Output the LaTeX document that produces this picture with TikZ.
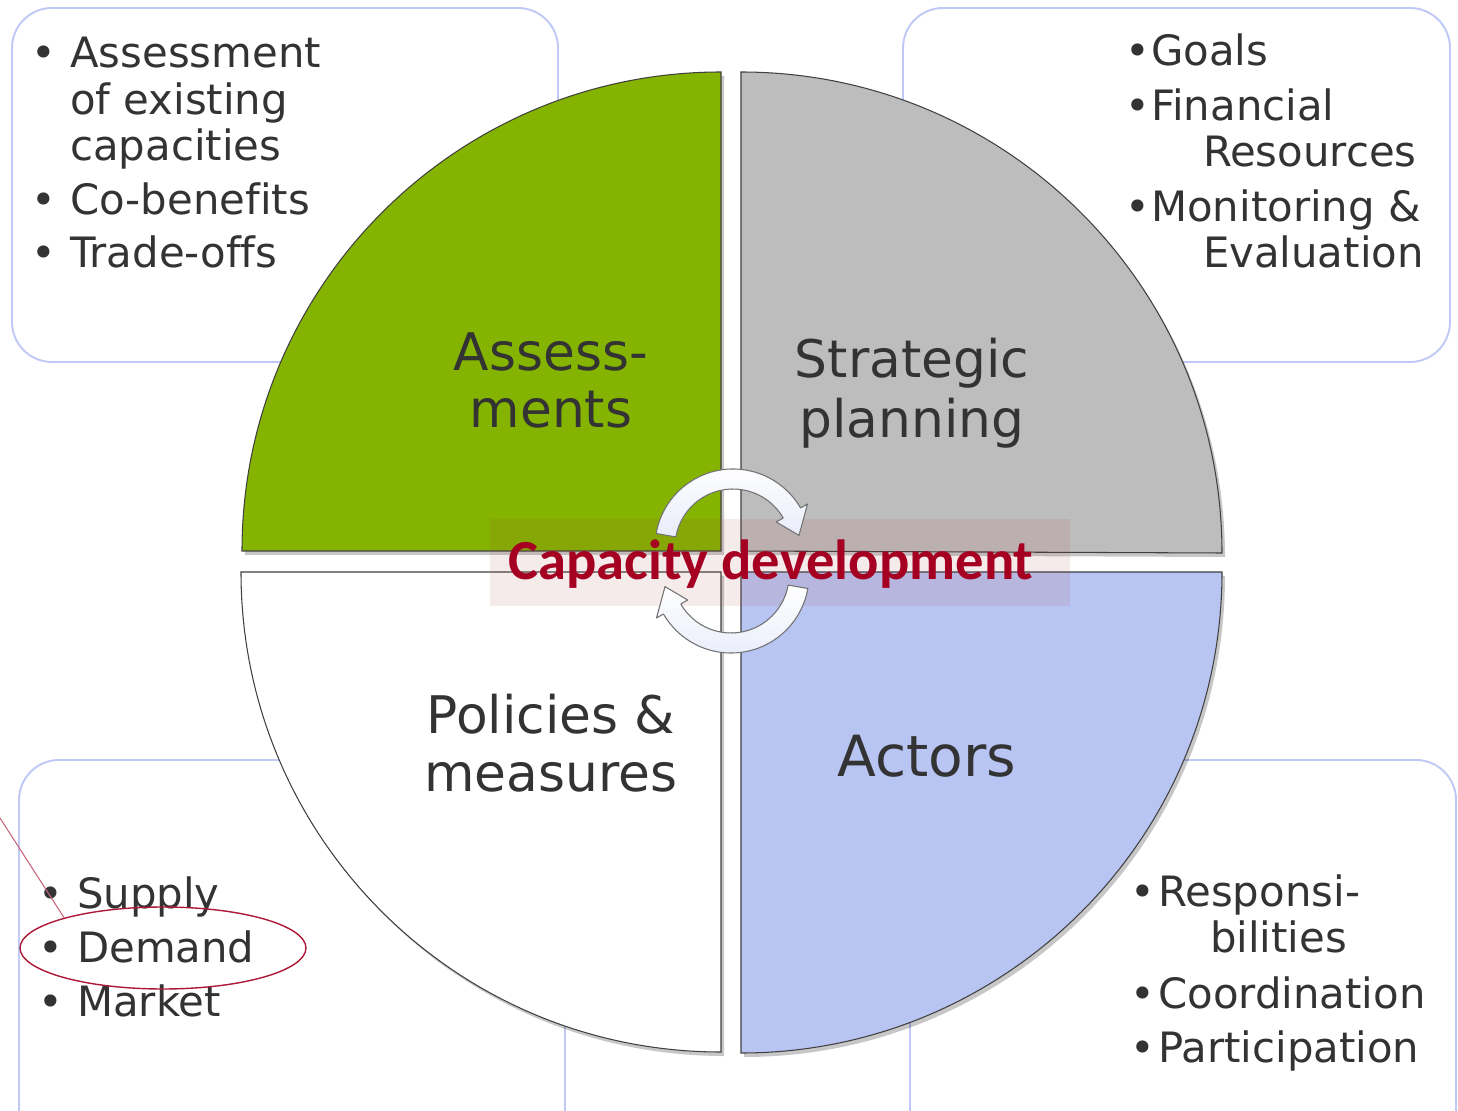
\documentclass[tikz,border=0pt]{standalone}
\usepackage{fontspec}
\setmainfont{DejaVu Sans}[Ligatures=NoCommon]
\newfontfamily\calfont{Carlito}
\usepackage{tikz}
\usetikzlibrary{shapes.geometric}

\definecolor{boxline}{RGB}{192,201,245}
\definecolor{leafgreen}{RGB}{132,180,0}
\definecolor{stonegray}{RGB}{189,189,189}
\definecolor{paleblue}{RGB}{184,196,242}
\definecolor{inkgray}{RGB}{51,51,51}
\definecolor{capred}{RGB}{165,0,33}
\definecolor{arrowfill}{RGB}{233,237,251}
\definecolor{bandpink}{RGB}{170,60,60}

\newlength\px
\setlength\px{0.5669pt}
\newcommand{\bul}[1]{\makebox[#1][l]{•}}

\tikzset{
  infobox/.style={draw=boxline, line width=1.1pt, rounded corners=0.8cm, fill=white},
  quarter/.style={draw=black!75, line width=0.6pt},
  itemtext/.style={anchor=base west, inner sep=0pt, text=inkgray, align=left,
    font=\fontsize{23.8pt}{26.36pt}\selectfont},
  quadtext/.style={anchor=base, inner sep=0pt, text=inkgray, align=center,
    font=\fontsize{29.5pt}{32.9pt}\selectfont},
  turnarrow/.style={top color=white, bottom color=arrowfill, draw=black!55, line width=0.6pt, line join=round},
  captext/.style={anchor=base, inner sep=0pt, text=capred,
    font=\calfont\bfseries\fontsize{32.2pt}{34pt}\selectfont},
  ring/.style={ellipse, draw=capred!90, line width=0.8pt, inner sep=0pt,
    minimum width=5.72cm, minimum height=1.64cm},
  pinline/.style={draw=capred!60, line width=0.6pt}
}

\begin{document}
\begin{tikzpicture}[x=0.02cm,y=-0.02cm]
  \useasboundingbox (0,0) rectangle (1458,1111);
  % corner boxes
  \draw[infobox] (12,8) rectangle (558,362);
  \draw[infobox] (903,8) rectangle (1450,362);
  \draw[infobox] (19,760) rectangle (565,1160);
  \draw[infobox] (910,760) rectangle (1456,1160);

  % shadows of the quarters
  \begin{scope}[shift={(3,4)}, opacity=0.22]
    \fill (721,551) -- (242,551) arc[start angle=180, end angle=270, radius=479] -- cycle;
    \fill (741,551) -- (741,72) arc[start angle=270, end angle=360, radius=481] -- cycle;
    \fill (721,572) -- (721,1052) arc[start angle=90, end angle=180, radius=480] -- cycle;
    \fill (741,572) -- (1222,572) arc[start angle=0, end angle=90, radius=481] -- cycle;
  \end{scope}

  % the four quarters
  \filldraw[quarter, fill=leafgreen] (721,551) -- (242,551) arc[start angle=180, end angle=270, radius=479] -- cycle;
  \filldraw[quarter, fill=stonegray] (741,551) -- (741,72) arc[start angle=270, end angle=360, radius=481] -- cycle;
  \filldraw[quarter, fill=white] (721,572) -- (721,1052) arc[start angle=90, end angle=180, radius=480] -- cycle;
  \filldraw[quarter, fill=paleblue] (741,572) -- (1222,572) arc[start angle=0, end angle=90, radius=481] -- cycle;

  \node[quadtext] (assess) at (551,428) {Assess-\\ments};
  \node[quadtext, font=\fontsize{29.5pt}{34.5pt}\selectfont] (strategy) at (912,438) {Strategic\\planning};
  \node[quadtext] (policy) at (551,791) {Policies \&\\measures};
  \node[quadtext, font=\fontsize{32.3pt}{34pt}\selectfont] (actors) at (927,776) {Actors};

  % centre band and cycle arrows
  \fill[bandpink, opacity=0.1] (490,519) rectangle (1070,606);
  \begin{scope}[shift={(733,547)}]
    \filldraw[turnarrow] (-170:78) arc[start angle=-170, end angle=-30, radius=78]
      -- (-30:86) -- (-10:67) -- (-30:50) -- (-30:58)
      arc[start angle=-30, end angle=-170, radius=58] -- cycle;
  \end{scope}
  \begin{scope}[shift={(731,575)}]
    \filldraw[turnarrow] (10:78) arc[start angle=10, end angle=150, radius=78]
      -- (150:86) -- (170:67) -- (150:50) -- (150:58)
      arc[start angle=150, end angle=10, radius=58] -- cycle;
  \end{scope}
  \node[captext] (capdev) at (771,580) {Capacity development};

  % lists
  \node[itemtext] (assesslist) at (31,268) {\bul{39\px}Assessment\\\hspace*{39\px}of existing\\\hspace*{39\px}capacities\\[7.5\px]\bul{39\px}Co-benefits\\[7.5\px]\bul{39\px}Trade-offs};
  \node[itemtext] (planlist) at (1125,268) {\bul{26\px}Goals\\[8.5\px]\bul{26\px}Financial\\\hspace*{78\px}Resources\\[8.5\px]\bul{26\px}Monitoring \&\\\hspace*{78\px}Evaluation};
  \node[itemtext] (marketlist) at (38,1016) {\bul{39\px}Supply\\[7.5\px]\bul{39\px}Demand\\[7.5\px]\bul{39\px}Market};
  \node[itemtext] (actorlist) at (1130,1062) {\bul{28\px}Responsi-\\\hspace*{80\px}bilities\\[9\px]\bul{28\px}Coordination\\[7.5\px]\bul{28\px}Participation};

  % marked item
  \node[ring] (demandring) at (163,948) {};
  \coordinate (pin) at (0,818);
  \draw[pinline] (pin) -- (demandring.163);
\end{tikzpicture}
\end{document}
